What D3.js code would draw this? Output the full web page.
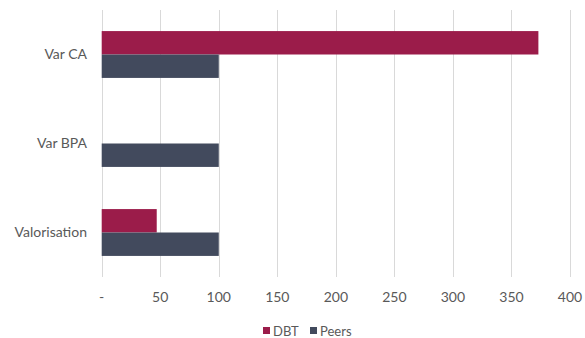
<!DOCTYPE html>
<html>
<head>
<meta charset="utf-8">
<script src="https://cdn.jsdelivr.net/npm/d3@7.9.0/dist/d3.min.js"></script>
<style>
  body { margin: 0; background: #fff; }
  svg text { font-family: Lato, "Open Sans", sans-serif; fill: #595959; }
</style>
</head>
<body>
<div id="chart"></div>
<script>
// chart data
const categories = ['Var CA', 'Var BPA', 'Valorisation'];
const seriesNames = ['DBT', 'Peers'];
const dbtValues = [373, 0, 47];
const peersValues = [100, 100, 100];
const xTicks = [0, 50, 100, 150, 200, 250, 300, 350, 400];
const colors = { DBT: '#9b1c4a', Peers: '#424a5d' };

const width = 585, height = 338;
const margin = { top: 10, right: 15, bottom: 61, left: 101.7 };

const svg = d3.select('#chart').append('svg')
  .attr('width', width)
  .attr('height', height);

const x = d3.scaleLinear()
  .domain([0, 400])
  .range([margin.left, 570]);

const y = d3.scaleBand()
  .domain(categories)
  .range([margin.top, height - margin.bottom]);

// two bars per category, lots of space around them
const inner = d3.scaleBand()
  .domain(seriesNames)
  .range([0, y.bandwidth()])
  .paddingOuter(0.9);

// gridlines
svg.append('g')
  .selectAll('line')
  .data(xTicks)
  .join('line')
  .attr('x1', d => Math.round(x(d)) + 0.5)
  .attr('x2', d => Math.round(x(d)) + 0.5)
  .attr('y1', margin.top)
  .attr('y2', height - margin.bottom)
  .attr('stroke', '#d9d9d9')
  .attr('stroke-width', 1);

// bars
const rows = categories.map((c, i) => ({
  cat: c,
  values: [
    { key: 'DBT', value: dbtValues[i] },
    { key: 'Peers', value: peersValues[i] }
  ]
}));

svg.append('g')
  .selectAll('g')
  .data(rows)
  .join('g')
  .attr('transform', d => `translate(0,${y(d.cat)})`)
  .selectAll('rect')
  .data(d => d.values.filter(v => v.value > 0))
  .join('rect')
  .attr('x', x(0))
  .attr('y', d => inner(d.key))
  .attr('width', d => x(d.value) - x(0))
  .attr('height', inner.bandwidth())
  .attr('fill', d => colors[d.key]);

// category labels
svg.append('g')
  .selectAll('text')
  .data(categories)
  .join('text')
  .attr('x', 87)
  .attr('y', d => y(d) + y.bandwidth() / 2)
  .attr('dy', '0.35em')
  .attr('text-anchor', 'end')
  .attr('font-size', 14)
  .text(d => d);

// x tick labels
svg.append('g')
  .selectAll('text')
  .data(xTicks)
  .join('text')
  .attr('x', d => x(d))
  .attr('y', 297)
  .attr('dy', '0.35em')
  .attr('text-anchor', 'middle')
  .attr('font-size', 14)
  .text(d => d === 0 ? '-' : d);

// legend
const legend = svg.append('g');
const legendX = [263, 310];
seriesNames.forEach((s, i) => {
  legend.append('rect')
    .attr('x', legendX[i])
    .attr('y', 327)
    .attr('width', 7)
    .attr('height', 7)
    .attr('fill', colors[s]);
  legend.append('text')
    .attr('x', legendX[i] + 10)
    .attr('y', 331)
    .attr('dy', '0.35em')
    .attr('font-size', 13)
    .text(s);
});
</script>
</body>
</html>
